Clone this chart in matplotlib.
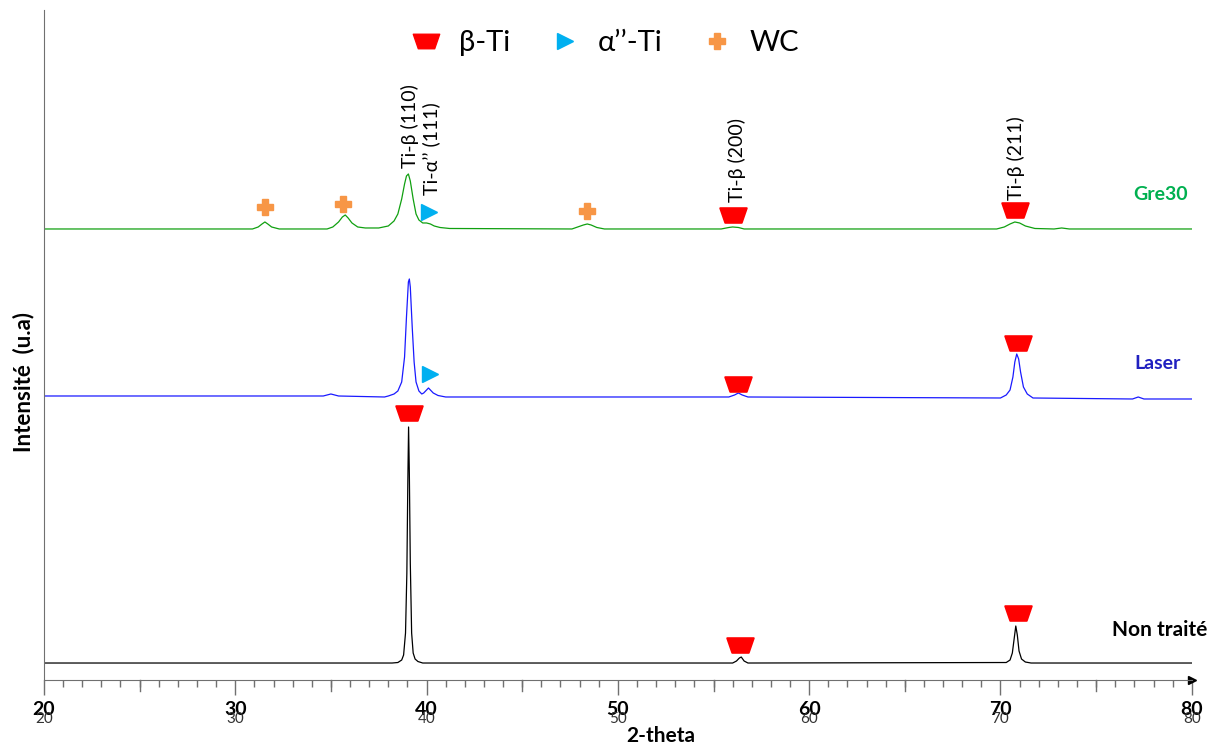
import numpy as np
import matplotlib.pyplot as plt
from matplotlib.path import Path
from matplotlib.lines import Line2D
from matplotlib.ticker import MultipleLocator

plt.rcParams['font.family'] = ['Lato', 'DejaVu Sans']

# Diffractogrammes (2-theta, intensité relative à la ligne de base)
nt_x = [20, 38.2, 38.5, 38.7, 38.8, 38.9, 38.97, 39.02, 39.06, 39.1, 39.15, 39.22, 39.3,
        39.4, 39.55, 39.8, 56.0, 56.2, 56.35, 56.45, 56.6, 56.8,
        70.3, 70.5, 70.62, 70.72, 70.8, 70.88, 70.97, 71.1, 71.3, 71.6, 80]
nt_y = [0, 0, 0.5, 3, 8, 30, 90, 180, 236, 190, 100, 30, 10,
        4, 1.5, 0, 0, 2, 5, 6, 2, 0,
        0.5, 3, 10, 25, 37, 28, 12, 4, 1, 0, 0]

laser_x = [20, 34.6, 35.0, 35.4, 37.8, 38.0, 38.3, 38.5, 38.7, 38.85, 38.95, 39.05, 39.1,
           39.15, 39.25, 39.35, 39.45, 39.6, 39.75, 39.85, 40.0, 40.1, 40.2, 40.35, 40.6,
           41.0, 55.8, 56.1, 56.3, 56.5, 56.8, 70.0, 70.3, 70.5, 70.65, 70.75, 70.85,
           70.95, 71.05, 71.2, 71.4, 71.7, 76.9, 77.2, 77.5, 80]
laser_y = [1, 1, 3, 1, 0, 1, 3, 6, 15, 40, 80, 115, 118,
           110, 70, 35, 15, 6, 3, 4, 7, 9, 7, 4, 1.5,
           0, 0, 2, 4, 2, 0, -1, 2, 7, 20, 35, 43,
           38, 25, 10, 3, -1, -2, 0, -2, -2]

gre_x = [20, 30.9, 31.2, 31.4, 31.55, 31.7, 31.9, 32.3, 34.8, 35.1, 35.4, 35.6, 35.75,
         35.9, 36.1, 36.4, 36.8, 37.5, 38.0, 38.3, 38.5, 38.7, 38.85, 38.95, 39.05,
         39.15, 39.3, 39.45, 39.6, 39.8, 40.0, 40.2, 40.4, 40.7, 41.2, 47.6, 47.9, 48.2,
         48.4, 48.6, 48.9, 49.3, 55.4, 55.8, 56.0, 56.3, 56.6, 69.8, 70.2, 70.5, 70.75,
         71.0, 71.3, 71.8, 72.8, 73.2, 73.6, 80]
gre_y = [0, 0, 2, 5, 7, 5, 2, 0, 0, 2, 7, 12, 14,
         11, 6, 2, 1, 1, 3, 8, 15, 30, 45, 53, 55,
         48, 30, 15, 9, 6, 6, 5, 3, 1.5, 0.5, 0, 2, 4,
         5, 4, 1.5, 0, 0, 1.5, 2, 1.5, 0, 0, 2, 5, 7,
         6, 3, 0.5, 0, 1, 0, 0]

offsets = {'Non traité': 17, 'Laser': 283, 'Gre30': 451}

# positions des marqueurs de phase (2-theta, hauteur)
beta_x = [39.1, 56.4, 70.9, 56.3, 70.9, 56.0, 70.75]
beta_y = [267, 35, 67, 296, 337, 465, 470]
alpha_x = [40.2, 40.15]
alpha_y = [306, 468]
wc_x = [31.55, 35.65, 48.4]
wc_y = [473, 476, 469]

trap = Path([(-1, 0.55), (1, 0.55), (0.62, -0.55), (-0.62, -0.55), (-1, 0.55)],
            [Path.MOVETO, Path.LINETO, Path.LINETO, Path.LINETO, Path.CLOSEPOLY])

red = '#ff0000'
cyan = '#00b0f0'
orange = '#f79646'

fig = plt.figure(figsize=(12.14, 7.49), dpi=100)
ax = fig.add_axes([0.0362, 0.0921, 0.9455, 0.8946])

ax.plot(nt_x, np.array(nt_y) + offsets['Non traité'], color='black', lw=0.9)
ax.plot(laser_x, np.array(laser_y) + offsets['Laser'], color='#1a1aff', lw=0.9)
ax.plot(gre_x, np.array(gre_y) + offsets['Gre30'], color='#10a010', lw=0.9)

ax.plot(beta_x, beta_y, ls='none', marker=trap, ms=19, color=red, mec=red, mew=1.5)
ax.plot(alpha_x, alpha_y, ls='none', marker='>', ms=12, color=cyan, mec=cyan)
ax.plot(wc_x, wc_y, ls='none', marker='P', ms=12, color=orange, mec=orange)

# annotations des pics
ax.text(39.15, 512, 'Ti-β (110)', rotation=90, ha='center', va='bottom', fontsize=14)
ax.text(40.25, 485, 'Ti-α’’ (111)', rotation=90, ha='center', va='bottom', fontsize=14)
ax.text(56.25, 478, 'Ti-β (200)', rotation=90, ha='center', va='bottom', fontsize=14)
ax.text(70.8, 480, 'Ti-β (211)', rotation=90, ha='center', va='bottom', fontsize=14)

ax.text(79.8, 485, 'Gre30', color='#00b050', fontweight='bold', fontsize=14,
        ha='right', va='center')
ax.text(79.4, 316, 'Laser', color='#2020c0', fontweight='bold', fontsize=14,
        ha='right', va='center')
ax.text(80.8, 50, 'Non traité', color='black', fontweight='bold', fontsize=15,
        ha='right', va='center', clip_on=False)

handles = [Line2D([], [], ls='none', marker=trap, ms=19, color=red, mec=red),
           Line2D([], [], ls='none', marker='>', ms=12, color=cyan, mec=cyan),
           Line2D([], [], ls='none', marker='P', ms=12, color=orange, mec=orange)]
ax.legend(handles, ['β-Ti', 'α’’-Ti', 'WC'], loc='center', bbox_to_anchor=(0.488, 0.951),
          ncol=3, frameon=False, fontsize=21, handletextpad=0.5, columnspacing=1.3,
          handlelength=1.2)

ax.set_xlim(20, 80)
ax.set_ylim(0, 670)
ax.set_yticks([])
for s in ['top', 'right']:
    ax.spines[s].set_visible(False)
ax.spines['left'].set_color('#707070')
ax.spines['bottom'].set_color('#707070')
ax.plot(1, 0, '>', color='black', ms=6, transform=ax.transAxes, clip_on=False)

ticks = [20, 30, 40, 50, 60, 70, 80]
ax.set_xticks(ticks)
ax.set_xticklabels([str(t) for t in ticks], fontweight='bold', fontsize=14)
ax.xaxis.set_minor_locator(MultipleLocator(1))
ax.tick_params(axis='x', which='major', length=11, width=1, color='#707070', pad=4)
ax.tick_params(axis='x', which='minor', length=5, width=1, color='#707070')
for t in range(25, 80, 10):
    ax.plot([t, t], [0, -0.017], color='#707070', lw=1, transform=ax.get_xaxis_transform(),
            clip_on=False)
for t in ticks:
    ax.text(t, -0.058, str(t), transform=ax.get_xaxis_transform(), ha='center', va='center',
            fontsize=11, color='#333333')

ax.set_xlabel('2-theta', fontweight='bold', fontsize=15)
ax.xaxis.set_label_coords(0.537, -0.068)
ax.set_ylabel('Intensité  (u.a)', fontweight='bold', fontsize=16)
ax.yaxis.set_label_coords(-0.008, 0.445)

fig.savefig('out.png', dpi=100)
